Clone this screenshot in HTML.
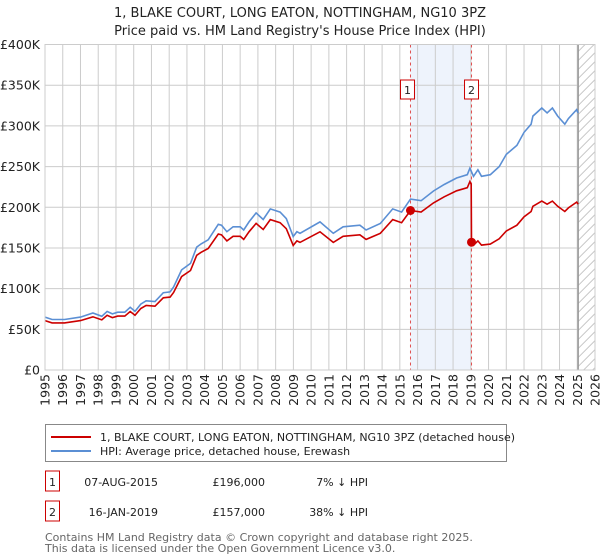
<!DOCTYPE html>
<html><head><meta charset="utf-8"><style>
body{margin:0;background:#fff;font-family:"Liberation Sans","DejaVu Sans",sans-serif;}
#wrap{position:relative;width:600px;height:560px;overflow:hidden;}
svg text{font-family:"DejaVu Sans","Liberation Sans",sans-serif;}
</style></head><body><div id="wrap">
<svg id="c" width="600" height="560"></svg>
</div>
<script>
const hpiYears=[1995.0,1995.4,1996.1,1997.0,1997.7,1998.2,1998.5,1998.8,1999.1,1999.5,1999.8,2000.07,2000.4,2000.7,2001.2,2001.67,2002.05,2002.25,2002.7,2003.2,2003.55,2003.8,2004.2,2004.77,2004.95,2005.25,2005.6,2006.0,2006.2,2006.5,2006.9,2007.3,2007.7,2008.25,2008.6,2008.99,2009.2,2009.37,2010.5,2011.25,2011.8,2012.75,2013.1,2013.9,2014.6,2015.1,2015.6,2016.2,2016.9,2017.5,2018.2,2018.8,2018.95,2019.15,2019.4,2019.6,2020.1,2020.6,2021.0,2021.6,2022.0,2022.4,2022.5,2023.0,2023.3,2023.6,2023.9,2024.3,2024.5,2024.97,2025.05];
const hpiValues=[65,62,62,65,70,66,72,69,71,71,77,72,81,85,84,95,96,102,123,131,151,155,160,179,178,170,176,176,172,182,193,185,198,194,186,164,170,168,182,168,176,178,172,180,198,194,210,208,220,228,236,240,248,238,246,238,240,250,265,276,292,302,312,322,316,322,312,302,309,320,316];
const saleYears=[2015.6,2019.04];
const salePrices=[196,157];
const saleLabels=["1","2"];
const yTicks=[0,50,100,150,200,250,300,350,400];
const yTickLabels=["£0","£50K","£100K","£150K","£200K","£250K","£300K","£350K","£400K"];
const xTicks=[1995,1996,1997,1998,1999,2000,2001,2002,2003,2004,2005,2006,2007,2008,2009,2010,2011,2012,2013,2014,2015,2016,2017,2018,2019,2020,2021,2022,2023,2024,2025,2026];

const L=45,R=595,T=44.5,B=370;
const X=y=>L+(y-1995)/31*(R-L);
const Y=v=>B-v/400*(B-T);
const NS="http://www.w3.org/2000/svg";
const svg=document.getElementById('c');
function mk(tag,attrs,parent){const e=document.createElementNS(NS,tag);for(const k in attrs)e.setAttribute(k,attrs[k]);(parent||svg).appendChild(e);return e;}
function hpiAt(t){for(let i=0;i<hpiYears.length-1;i++){if(t>=hpiYears[i]&&t<=hpiYears[i+1]){const f=(t-hpiYears[i])/(hpiYears[i+1]-hpiYears[i]);return hpiValues[i]+f*(hpiValues[i+1]-hpiValues[i]);}}return hpiValues[hpiValues.length-1];}

const defs=mk('defs',{});
const cp=mk('clipPath',{id:'fclip'},defs);
mk('rect',{x:X(2025.05),y:T,width:R-X(2025.05),height:B-T},cp);

let sh=mk('rect',{x:X(saleYears[0]),y:T,width:X(saleYears[1])-X(saleYears[0]),height:B-T,fill:'#eef3fc'});



// grid
xTicks.forEach((t,i)=>{
  let g=mk('line',{x1:X(t),x2:X(t),y1:T,y2:B,stroke:'#cccccc','stroke-width':1});
  
  
  let tx=mk('text',{x:0,y:0,'font-size':12.5,fill:'#222','text-anchor':'end',transform:`translate(${X(t)+4.5},374) rotate(-90)`});
  tx.textContent=t;
  
  
});
yTicks.forEach((v,i)=>{
  let g=mk('line',{x1:L,x2:R,y1:Y(v),y2:Y(v),stroke:'#cccccc','stroke-width':1});
  
  
  let tx=mk('text',{x:40,y:Y(v)+4.5,'font-size':12.5,fill:'#222','text-anchor':'end'});
  tx.textContent=yTickLabels[i];
  
  
});

// future hatch
const hg=mk('g',{'clip-path':'url(#fclip)'});


const fx=X(2025.05);
let d='';
for(let yy=T-20;yy<B+40;yy+=9){d+=`M${fx},${yy} L${R},${yy-(R-fx)} `;}
mk('rect',{x:fx,y:T,width:R-fx,height:B-T,fill:'#fff'},hg);
mk('path',{d:d,stroke:'#c8c8c8','stroke-width':1,fill:'none'},hg);

let nowLine=mk('line',{x1:X(2025.05),x2:X(2025.05),y1:T,y2:B,stroke:'#999','stroke-width':1.5});



saleYears.forEach((s,i)=>{
  let l=mk('line',{x1:X(s),x2:X(s),y1:T,y2:B,stroke:'#e05050','stroke-width':1,'stroke-dasharray':'3,3'});
  
  
});

let hp=hpiYears.map((t,i)=>`${X(t).toFixed(1)},${Y(hpiValues[i]).toFixed(1)}`).join(' ');
let hl=mk('polyline',{points:hp,fill:'none',stroke:'#5b8fd4','stroke-width':1.6});



let pts=[];
const r0=salePrices[0]/hpiAt(saleYears[0]);
const r1=salePrices[1]/hpiAt(saleYears[1]);
hpiYears.forEach((t,i)=>{ if(t<saleYears[1]) pts.push([t,hpiValues[i]*r0]); });
pts.push([saleYears[1]-0.02,hpiAt(saleYears[1]-0.02)*r0]);
pts.push([saleYears[1],salePrices[1]]);
hpiYears.forEach((t,i)=>{ if(t>saleYears[1]) pts.push([t,hpiValues[i]*r1]); });
let pl=mk('polyline',{points:pts.map(p=>`${X(p[0]).toFixed(1)},${Y(p[1]).toFixed(1)}`).join(' '),fill:'none',stroke:'#cc0000','stroke-width':1.6});



saleYears.forEach((s,i)=>{
  let c=mk('circle',{cx:X(s),cy:Y(salePrices[i]),r:4.5,fill:'#cc0000'});
  
  
  let bx=mk('rect',{x:X(s)-(i==0?10:7),y:80,width:14,height:19,fill:'#fff',stroke:'#cc0000','stroke-width':1});
  
  
  let tx=mk('text',{x:X(s)-(i==0?3:0),y:94,'font-size':11,'text-anchor':'middle',fill:'#222'});
  tx.textContent=saleLabels[i];
  
  
});
let pb=mk('rect',{x:L,y:T,width:R-L,height:B-T,fill:'none',stroke:'#ccc','stroke-width':1});



let t1=mk('text',{x:300,y:17,'font-size':13,'text-anchor':'middle',fill:'#222'});
t1.textContent="1, BLAKE COURT, LONG EATON, NOTTINGHAM, NG10 3PZ";


let t2=mk('text',{x:300,y:35,'font-size':13,'text-anchor':'middle',fill:'#222'});
t2.textContent="Price paid vs. HM Land Registry's House Price Index (HPI)";



let lg=mk('rect',{x:45.5,y:424.5,width:461,height:37,fill:'#fff',stroke:'#888','stroke-width':1});


let ll1=mk('line',{x1:51,x2:91,y1:437,y2:437,stroke:'#cc0000','stroke-width':2});


let lt1=mk('text',{x:100,y:441,'font-size':11,fill:'#222'});
lt1.textContent="1, BLAKE COURT, LONG EATON, NOTTINGHAM, NG10 3PZ (detached house)";


let ll2=mk('line',{x1:51,x2:91,y1:451,y2:451,stroke:'#5b8fd4','stroke-width':2});


let lt2=mk('text',{x:100,y:455,'font-size':11,fill:'#222'});
lt2.textContent="HPI: Average price, detached house, Erewash";



const rowDates=["07-AUG-2015","16-JAN-2019"];
const rowPrices=["£196,000","£157,000"];
const rowHpi=["7% ↓ HPI","38% ↓ HPI"];
[0,1].forEach(i=>{
  const yy=483+i*30;
  let b=mk('rect',{x:45.5,y:yy-12,width:14,height:20,fill:'#fff',stroke:'#cc0000','stroke-width':1});
  
  
  let n=mk('text',{x:52.5,y:yy+3,'font-size':11,'text-anchor':'middle',fill:'#222'});
  n.textContent=saleLabels[i];
  
  
  let d2=mk('text',{x:158,y:yy+3,'font-size':11,'text-anchor':'end',fill:'#222'});
  d2.textContent=rowDates[i];
  
  
  let p=mk('text',{x:265,y:yy+3,'font-size':11,'text-anchor':'end',fill:'#222'});
  p.textContent=rowPrices[i];
  
  
  let h=mk('text',{x:368,y:yy+3,'font-size':11,'text-anchor':'end',fill:'#222'});
  h.textContent=rowHpi[i];
  
  
});
let f1=mk('text',{x:45,y:541,'font-size':11,fill:'#666'});
f1.textContent="Contains HM Land Registry data © Crown copyright and database right 2025.";


let f2=mk('text',{x:45,y:552,'font-size':11,fill:'#666'});
f2.textContent="This data is licensed under the Open Government Licence v3.0.";


</script></body></html>
